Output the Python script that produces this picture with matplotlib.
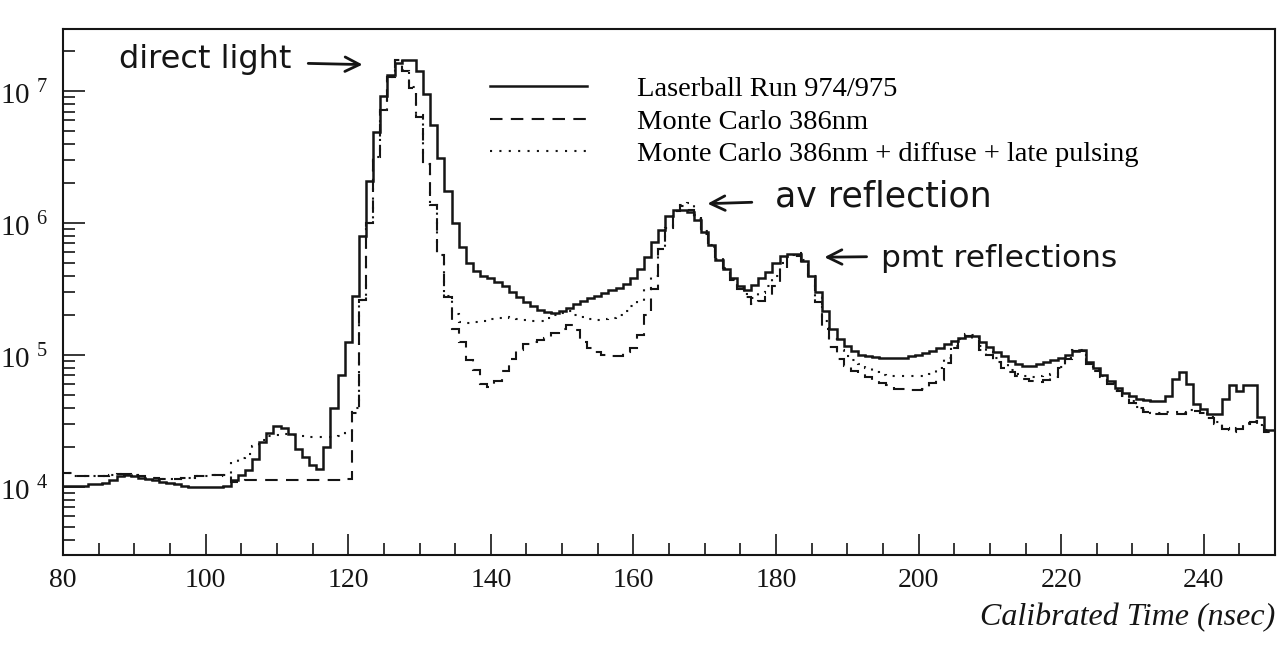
import numpy as np
import matplotlib
matplotlib.use("Agg")
import matplotlib.pyplot as plt
from matplotlib.lines import Line2D
from matplotlib.ticker import LogLocator, MultipleLocator, NullFormatter, FuncFormatter

# --- Datos (log10 de cuentas, bins de 1 ns centrados en 80..250) ---
bin_centres = np.arange(80, 251)

laserball_log = [
    4.01, 4.01, 4.01, 4.01, 4.02, 4.02, 4.03, 4.05, 4.08, 4.09,   # 80-89
    4.08, 4.07, 4.06, 4.05, 4.04, 4.03, 4.02, 4.01, 4.00, 4.00,   # 90-99
    4.00, 4.00, 4.00, 4.01, 4.05, 4.09, 4.13, 4.21, 4.34, 4.41,   # 100-109
    4.46, 4.45, 4.40, 4.29, 4.23, 4.17, 4.14, 4.30, 4.60, 4.85,   # 110-119
    5.10, 5.45, 5.90, 6.32, 6.69, 6.96, 7.12, 7.21, 7.235, 7.235, # 120-129
    7.155, 6.975, 6.74, 6.49, 6.24, 6.00, 5.82, 5.70, 5.64, 5.60, # 130-139
    5.58, 5.555, 5.52, 5.48, 5.44, 5.40, 5.37, 5.345, 5.325, 5.315,  # 140-149
    5.335, 5.36, 5.385, 5.41, 5.43, 5.45, 5.47, 5.49, 5.51, 5.54,    # 150-159
    5.58, 5.65, 5.74, 5.86, 5.95, 6.05, 6.10, 6.10, 6.08, 6.02,      # 160-169
    5.93, 5.83, 5.72, 5.65, 5.585, 5.525, 5.49, 5.53, 5.58, 5.63,    # 170-179
    5.70, 5.75, 5.765, 5.765, 5.715, 5.60, 5.48, 5.33, 5.20, 5.12,   # 180-189
    5.07, 5.03, 5.00, 4.99, 4.985, 4.98, 4.98, 4.98, 4.98, 4.99,     # 190-199
    5.00, 5.015, 5.03, 5.05, 5.08, 5.105, 5.13, 5.146, 5.146, 5.10,  # 200-209
    5.06, 5.025, 4.99, 4.955, 4.93, 4.915, 4.915, 4.93, 4.945, 4.96, # 210-219
    4.98, 5.00, 5.03, 5.04, 4.95, 4.90, 4.85, 4.80, 4.75, 4.715,     # 220-229
    4.69, 4.67, 4.66, 4.65, 4.65, 4.69, 4.815, 4.87, 4.78, 4.63,     # 230-239
    4.595, 4.55, 4.55, 4.665, 4.77, 4.73, 4.77, 4.77, 4.53, 4.43,    # 240-249
    4.43,                                                             # 250
]

mc386_log = [
    4.11, 4.11, 4.08, 4.08, 4.08, 4.08, 4.08, 4.09, 4.10, 4.10,   # 80-89
    4.09, 4.08, 4.07, 4.07, 4.06, 4.06, 4.06, 4.07, 4.07, 4.08,   # 90-99
    4.08, 4.09, 4.09, 4.08, 4.04, 4.04, 4.05, 4.05, 4.05, 4.05,   # 100-109
    4.05, 4.05, 4.05, 4.05, 4.05, 4.05, 4.05, 4.05, 4.05, 4.05,   # 110-119
    4.06, 4.56, 5.42, 6.00, 6.50, 6.86, 7.11, 7.235, 7.15, 7.02,  # 120-129
    6.80, 6.45, 6.14, 5.76, 5.44, 5.20, 5.10, 4.96, 4.89, 4.78,   # 130-139
    4.76, 4.80, 4.88, 4.97, 5.04, 5.08, 5.10, 5.115, 5.13, 5.165, # 140-149
    5.20, 5.23, 5.19, 5.10, 5.05, 5.02, 5.00, 4.995, 4.995, 5.02, # 150-159
    5.055, 5.15, 5.30, 5.50, 5.80, 5.96, 6.09, 6.13, 6.10, 6.03,  # 160-169
    5.92, 5.82, 5.745, 5.66, 5.57, 5.50, 5.44, 5.39, 5.41, 5.44,  # 170-179
    5.52, 5.65, 5.74, 5.75, 5.715, 5.58, 5.40, 5.20, 5.06, 4.97,  # 180-189
    4.92, 4.88, 4.86, 4.83, 4.80, 4.785, 4.77, 4.745, 4.74, 4.735,  # 190-199
    4.735, 4.74, 4.79, 4.814, 4.94, 5.05, 5.107, 5.147, 5.12, 5.04, # 200-209
    5.00, 4.95, 4.90, 4.87, 4.84, 4.82, 4.80, 4.795, 4.81, 4.83,    # 210-219
    4.90, 4.97, 5.03, 5.03, 4.93, 4.88, 4.83, 4.78, 4.73, 4.69,     # 220-229
    4.64, 4.60, 4.57, 4.55, 4.55, 4.555, 4.555, 4.55, 4.57, 4.575,  # 230-239
    4.56, 4.52, 4.48, 4.44, 4.42, 4.44, 4.475, 4.49, 4.46, 4.42,    # 240-249
    4.42,                                                            # 250
]

mc386_diffuse_log = [
    4.11, 4.11, 4.08, 4.08, 4.08, 4.08, 4.08, 4.09, 4.10, 4.10,   # 80-89
    4.09, 4.08, 4.07, 4.07, 4.06, 4.06, 4.06, 4.07, 4.07, 4.08,   # 90-99
    4.08, 4.09, 4.09, 4.09, 4.19, 4.22, 4.25, 4.31, 4.36, 4.39,   # 100-109
    4.395, 4.40, 4.395, 4.39, 4.385, 4.38, 4.38, 4.376, 4.38, 4.39,  # 110-119
    4.41, 4.60, 5.42, 6.00, 6.50, 6.86, 7.11, 7.235, 7.16, 7.03,     # 120-129
    6.82, 6.45, 6.14, 5.76, 5.45, 5.31, 5.25, 5.24, 5.25, 5.26,      # 130-139
    5.27, 5.28, 5.29, 5.28, 5.27, 5.265, 5.26, 5.26, 5.28, 5.30,     # 140-149
    5.32, 5.33, 5.30, 5.29, 5.27, 5.262, 5.27, 5.283, 5.30, 5.335,   # 150-159
    5.37, 5.41, 5.50, 5.60, 5.80, 5.96, 6.09, 6.14, 6.15, 6.06,      # 160-169
    5.94, 5.835, 5.73, 5.65, 5.575, 5.51, 5.46, 5.43, 5.47, 5.52,    # 170-179
    5.60, 5.70, 5.76, 5.77, 5.72, 5.60, 5.44, 5.26, 5.12, 5.04,      # 180-189
    4.99, 4.965, 4.93, 4.90, 4.87, 4.85, 4.845, 4.84, 4.84, 4.84,    # 190-199
    4.84, 4.84, 4.86, 4.90, 4.977, 5.068, 5.12, 5.16, 5.15, 5.07,    # 200-209
    5.02, 4.98, 4.93, 4.89, 4.86, 4.84, 4.836, 4.84, 4.85, 4.86,     # 210-219
    4.91, 4.98, 5.035, 5.04, 4.94, 4.89, 4.84, 4.79, 4.74, 4.70,     # 220-229
    4.65, 4.61, 4.58, 4.56, 4.56, 4.565, 4.565, 4.56, 4.58, 4.585,   # 230-239
    4.57, 4.53, 4.49, 4.45, 4.43, 4.45, 4.485, 4.50, 4.47, 4.43,     # 240-249
    4.43,                                                             # 250
]

series_labels = [
    "Laserball Run 974/975",
    "Monte Carlo 386nm",
    "Monte Carlo 386nm + diffuse + late pulsing",
]
x_tick_values = [80, 100, 120, 140, 160, 180, 200, 220, 240]

INK = "#151515"
SERIF = ["Liberation Serif", "DejaVu Serif"]
HAND = ["DejaVu Sans"]

plt.rcParams["font.family"] = SERIF
plt.rcParams["mathtext.fontset"] = "custom"
plt.rcParams["mathtext.rm"] = "Liberation Serif"


def plot_timing():
    fig = plt.figure(figsize=(12.87, 6.58), dpi=100)
    ax = fig.add_axes([0.049, 0.1565, 0.9417, 0.7994])

    edges = np.append(bin_centres - 0.5, bin_centres[-1] + 0.5)
    ax.stairs(10 ** np.array(laserball_log), edges, baseline=None,
              color=INK, lw=1.8)
    ax.stairs(10 ** np.array(mc386_log), edges, baseline=None,
              color=INK, lw=1.5, linestyle=(0, (6, 4)))
    ax.stairs(10 ** np.array(mc386_diffuse_log), edges, baseline=None,
              color=INK, lw=1.5, linestyle=(0, (1, 3.5)))

    ax.set_xlim(80, 250)
    ax.set_yscale("log")
    ax.set_ylim(10 ** 3.485, 10 ** 7.47)

    # ejes y marcas
    for side in ["left", "right", "top", "bottom"]:
        ax.spines[side].set_linewidth(1.5)
        ax.spines[side].set_color(INK)
    ax.xaxis.set_major_locator(plt.FixedLocator(x_tick_values))
    ax.xaxis.set_minor_locator(MultipleLocator(5))
    ax.yaxis.set_major_locator(LogLocator(base=10, numticks=10))
    ax.yaxis.set_minor_locator(LogLocator(base=10, subs=np.arange(2, 10), numticks=20))
    ax.yaxis.set_minor_formatter(NullFormatter())
    ax.yaxis.set_major_formatter(
        FuncFormatter(lambda v, _: r"$\mathrm{10}^{\ %d}$" % round(np.log10(v))))
    ax.tick_params(axis="both", which="both", direction="in", colors=INK,
                   top=False, right=False, width=1.2)
    ax.tick_params(axis="x", which="major", length=15, labelsize=20, pad=9)
    ax.tick_params(axis="x", which="minor", length=8.5)
    ax.tick_params(axis="y", which="major", length=16, labelsize=21, pad=11)
    ax.tick_params(axis="y", which="minor", length=8.5)

    # leyenda
    handles = [
        Line2D([], [], color=INK, lw=1.8),
        Line2D([], [], color=INK, lw=1.5, linestyle=(0, (6, 4))),
        Line2D([], [], color=INK, lw=1.5, linestyle=(0, (1, 3.5))),
    ]
    ax.legend(handles, series_labels, loc="upper left",
              bbox_to_anchor=(0.343, 0.932), frameon=False, fontsize=20.5,
              handlelength=3.4, handletextpad=1.75, labelspacing=0.23,
              borderaxespad=0.0)

    # anotaciones manuscritas
    hand = dict(family=HAND, color=INK, va="center", ha="left")
    arrow = dict(arrowstyle="->", lw=2.0, color=INK, mutation_scale=26)
    ax.text(87.9, 10 ** 7.24, "direct light", fontsize=23, **hand)
    ax.annotate("", xy=(122.4, 10 ** 7.20), xytext=(114.0, 10 ** 7.21),
                arrowprops=arrow)
    ax.text(179.8, 10 ** 6.20, "av reflection", fontsize=25, **hand)
    ax.annotate("", xy=(170.0, 10 ** 6.146), xytext=(177.0, 10 ** 6.158),
                arrowprops=arrow)
    ax.text(194.8, 10 ** 5.73, "pmt reflections", fontsize=22.5, **hand)
    ax.annotate("", xy=(186.4, 10 ** 5.741), xytext=(193.1, 10 ** 5.745),
                arrowprops=arrow)

    fig.text(0.991, 0.061, "Calibrated Time (nsec)", ha="right", va="center",
             style="italic", fontsize=23, color=INK)

    fig.savefig("out.png", dpi=100, facecolor="white")
    plt.close(fig)


if __name__ == "__main__":
    plot_timing()
